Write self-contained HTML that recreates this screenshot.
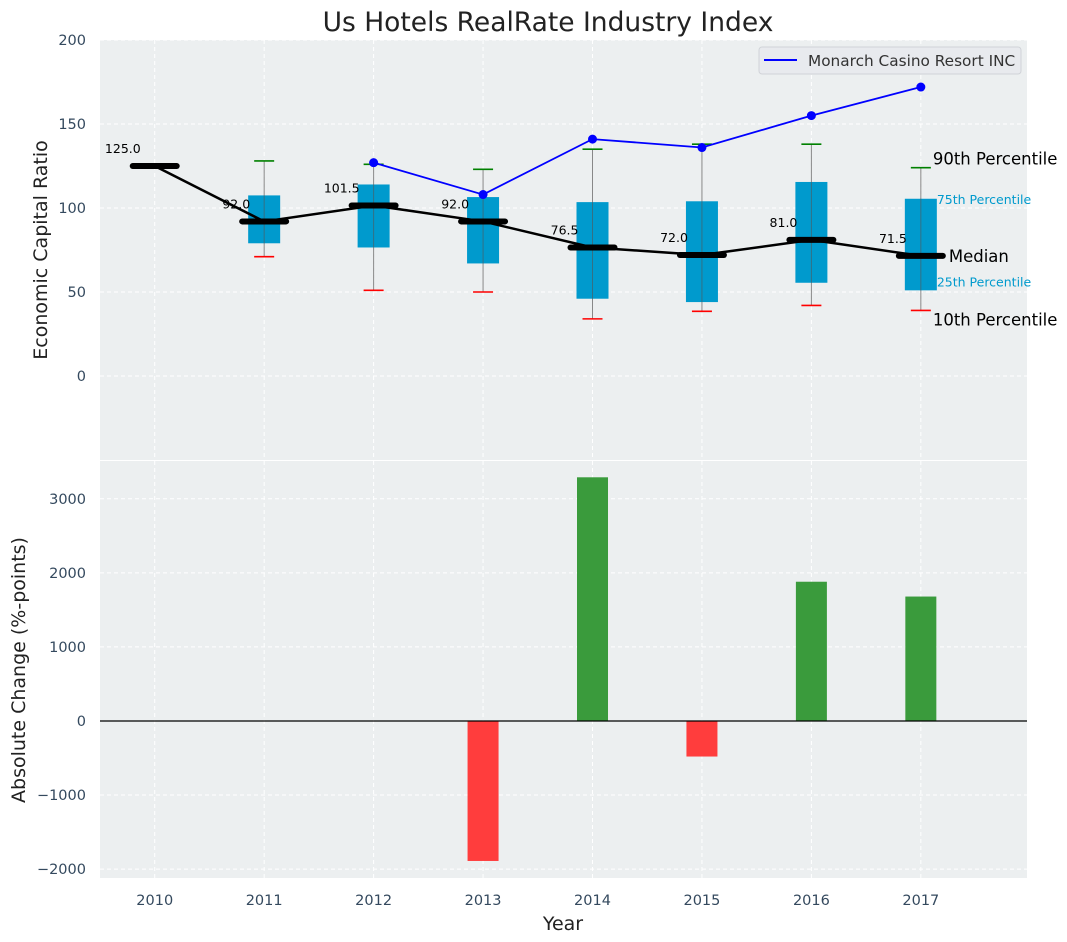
<!DOCTYPE html>
<html><head><meta charset="utf-8"><style>
html,body{margin:0;padding:0;background:#fff;}
svg{display:block;font-family:"DejaVu Sans","Liberation Sans",sans-serif;}
</style></head><body>
<svg id="chart" width="1067" height="942"></svg>
<script>
const years=[2010,2011,2012,2013,2014,2015,2016,2017];
const medians=[125,92,101.5,92,76.5,72,81,71.5];
const p90=[null,128,126,123,135,138,138,124];
const p75=[null,107.5,114,106.5,103.5,104,115.5,105.5];
const p25=[null,79,76.5,67,46,44,55.5,51];
const p10=[null,71,51,50,34,38.5,42,39];
const monarchYears=[2012,2013,2014,2015,2016,2017];
const monarchVals=[127,108,141,136,155,172];
const changeYears=[2013,2014,2015,2016,2017];
const changeVals=[-1890,3290,-480,1880,1680];
const topTicks=[0,50,100,150,200];
const botTicks=[-2000,-1000,0,1000,2000,3000];

const NS="http://www.w3.org/2000/svg";
const svg=document.getElementById('chart');
function mk(tag,attrs,parent){const e=document.createElementNS(NS,tag);for(const k in attrs)e.setAttribute(k,attrs[k]);(parent||svg).appendChild(e);return e;}
const L=100,R=1027;
const x=v=>L+(v-2009.5)/(2017.97-2009.5)*(R-L);
const T0=40,T1=460,yt=v=>T0+(200-v)/250*(T1-T0);
const B0=461,B1=878,yb=v=>B0+(3510-v)/(3510+2120)*(B1-B0);
const tickCol="#34495e";

let e=mk('rect',{x:L,y:T0,width:R-L,height:T1-T0,fill:"#eceff0"});

e=mk('rect',{x:L,y:B0,width:R-L,height:B1-B0,fill:"#eceff0"});


years.forEach(yr=>{
  mk('line',{x1:x(yr),x2:x(yr),y1:T0,y2:T1,stroke:"#fff","stroke-dasharray":"4,3","stroke-width":1});
  mk('line',{x1:x(yr),x2:x(yr),y1:B0,y2:B1,stroke:"#fff","stroke-dasharray":"4,3","stroke-width":1});
  e=mk('text',{x:x(yr),y:905,"text-anchor":"middle","font-size":14.5,fill:tickCol});e.textContent=yr;
  
});
topTicks.forEach(v=>{
  mk('line',{x1:L,x2:R,y1:yt(v),y2:yt(v),stroke:"#fff","stroke-dasharray":"4,3","stroke-width":1});
  e=mk('text',{x:86,y:yt(v)+5,"text-anchor":"end","font-size":14.5,fill:tickCol});e.textContent=v;
  
});
botTicks.forEach(v=>{
  mk('line',{x1:L,x2:R,y1:yb(v),y2:yb(v),stroke:"#fff","stroke-dasharray":"4,3","stroke-width":1});
  e=mk('text',{x:86,y:yb(v)+5,"text-anchor":"end","font-size":14.5,fill:tickCol});e.textContent=v<0?'\u2212'+(-v):v;
  
});

years.forEach((yr,i)=>{
  if(p90[i]===null)return;
  const cx=x(yr);
  e=mk('line',{x1:cx,x2:cx,y1:yt(p90[i]),y2:yt(p10[i]),stroke:"#888","stroke-width":1});
  
  e=mk('rect',{x:cx-16,y:yt(p75[i]),width:32,height:yt(p25[i])-yt(p75[i]),fill:"#009ACD"});
  
  mk('line',{x1:cx,x2:cx,y1:yt(p75[i]),y2:yt(p25[i]),stroke:"#555","stroke-width":1,opacity:0.6});
  e=mk('line',{x1:cx-10,x2:cx+10,y1:yt(p90[i]),y2:yt(p90[i]),stroke:"green","stroke-width":1.6});
  
  e=mk('line',{x1:cx-10,x2:cx+10,y1:yt(p10[i]),y2:yt(p10[i]),stroke:"red","stroke-width":1.6});
  
});
e=mk('polyline',{points:years.map((yr,i)=>x(yr)+','+yt(medians[i])).join(' '),fill:"none",stroke:"#000","stroke-width":2.5});

years.forEach((yr,i)=>{
  e=mk('line',{x1:x(yr)-22,x2:x(yr)+22,y1:yt(medians[i]),y2:yt(medians[i]),stroke:"#000","stroke-width":6,"stroke-linecap":"round"});
  
  e=mk('text',{x:x(yr)-14,y:yt(medians[i])-13,"text-anchor":"end","font-size":12.5,fill:"#000"});e.textContent=medians[i].toFixed(1);
  
});
e=mk('polyline',{points:monarchYears.map((yr,i)=>x(yr)+','+yt(monarchVals[i])).join(' '),fill:"none",stroke:"#0000ff","stroke-width":1.8});

monarchYears.forEach((yr,i)=>{
  e=mk('circle',{cx:x(yr),cy:yt(monarchVals[i]),r:4.5,fill:"#0000ff"});
  
});
const ax=x(2017);
[["90th Percentile",ax+12,yt(124)-3,16.5,"#000"],["75th Percentile",ax+16,yt(105.5)+5,12.5,"#009ACD"],["Median",ax+28,yt(71.5)+6,16.5,"#000"],["25th Percentile",ax+16,yt(51)-4,12.5,"#009ACD"],["10th Percentile",ax+12,yt(39)+15,16.5,"#000"]].forEach(a=>{
  e=mk('text',{x:a[1],y:a[2],"font-size":a[3],fill:a[4]});e.textContent=a[0];
  
});
const lg=mk('g',{});

mk('rect',{x:759,y:47,width:262,height:27,rx:3,fill:"#e8eaee",stroke:"#d0d3d8"},lg);
mk('line',{x1:764,x2:797,y1:60,y2:60,stroke:"#0000ff","stroke-width":2},lg);
e=mk('text',{x:808,y:66,"font-size":15.3,fill:"#333"},lg);e.textContent="Monarch Casino Resort INC";

changeYears.forEach((yr,i)=>{
  const v=changeVals[i];
  e=mk('rect',{x:x(yr)-15.5,y:Math.min(yb(v),yb(0)),width:31,height:Math.abs(yb(v)-yb(0)),fill:v>=0?"#3a9b3c":"#ff3d3d"});
  
});
mk('line',{x1:L,x2:R,y1:yb(0),y2:yb(0),stroke:"#000","stroke-width":1.2});

e=mk('text',{x:548,y:31,"text-anchor":"middle","font-size":26.5,fill:"#222"});e.textContent="Us Hotels RealRate Industry Index";

e=mk('text',{x:0,y:0,"text-anchor":"middle","font-size":19,fill:"#222",transform:"translate(47,250) rotate(-90)"});e.textContent="Economic Capital Ratio";

e=mk('text',{x:0,y:0,"text-anchor":"middle","font-size":19,fill:"#222",transform:"translate(25,670) rotate(-90)"});e.textContent="Absolute Change (%-points)";

e=mk('text',{x:563,y:930,"text-anchor":"middle","font-size":19,fill:"#222"});e.textContent="Year";

</script>
</body></html>
